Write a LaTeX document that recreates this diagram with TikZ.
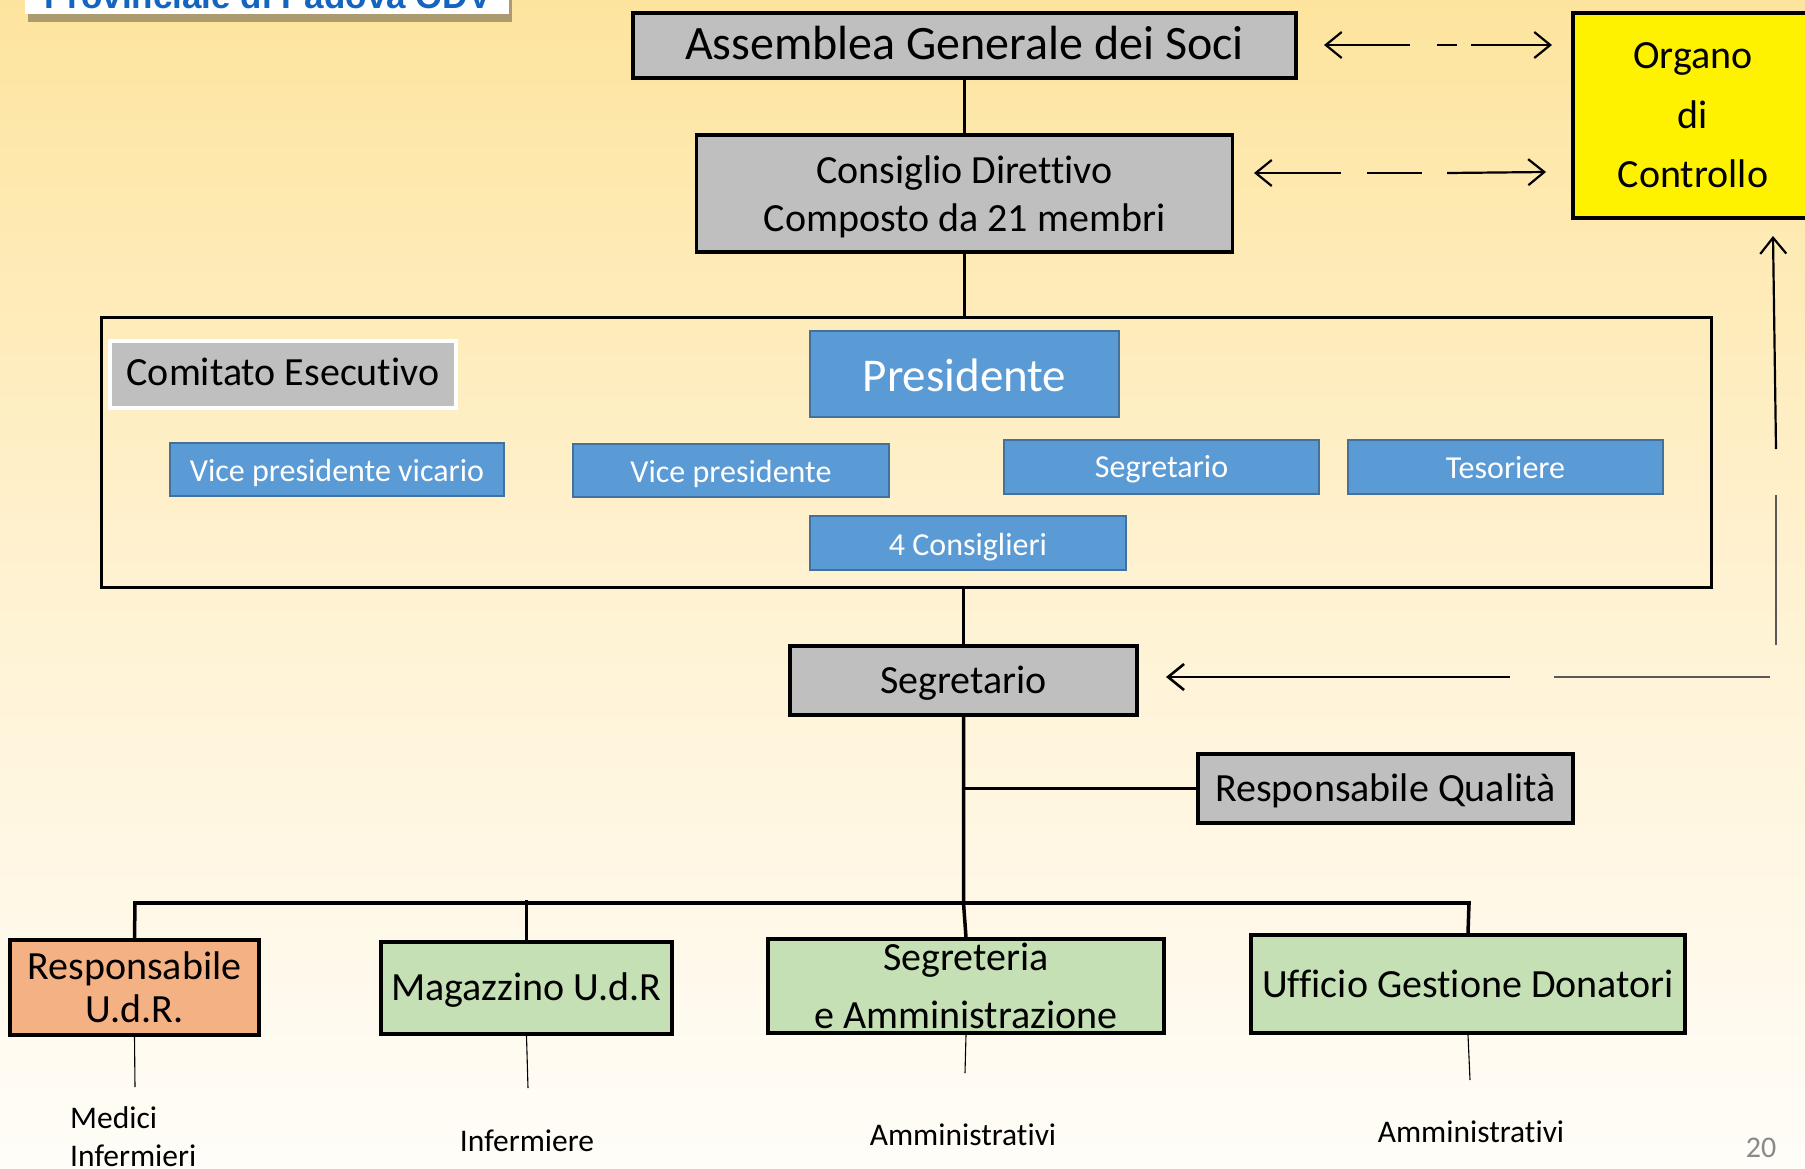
\documentclass[tikz,border=0pt]{standalone}
\usepackage{fontspec}
\setmainfont{Carlito}[Ligatures=NoCommon]
\newfontfamily\titlefont{Liberation Sans}
\usetikzlibrary{arrows.meta,calc}
\newcommand{\txtshift}[2]{\raisebox{-#1pt}[\height][\depth]{#2}}
\definecolor{grayfill}{RGB}{191,191,191}
\definecolor{bluefill}{RGB}{91,155,213}
\definecolor{blueline}{RGB}{65,113,156}
\definecolor{greenfill}{RGB}{197,224,180}
\definecolor{orangefill}{RGB}{244,177,131}
\definecolor{bgtop}{RGB}{253,228,158}
\definecolor{bgmid}{RGB}{255,242,210}
\definecolor{bgbot}{RGB}{255,253,248}
\definecolor{titleblue}{RGB}{21,101,192}
\definecolor{thingray}{RGB}{89,89,89}
\definecolor{shadowc}{RGB}{160,143,104}
\definecolor{pagegray}{RGB}{137,137,137}
\tikzset{
  gbox/.style={draw=black, line width=3.5pt, fill=grayfill, inner sep=0pt, font=\fontsize{40}{48}\selectfont},
  bbox/.style={draw=blueline, line width=2pt, fill=bluefill, text=white, inner sep=0pt, font=\fontsize{32}{38}\selectfont},
  cbox/.style={draw=black, line width=3.5pt, inner sep=0pt, font=\fontsize{40}{48}\selectfont},
  conn/.style={line width=3.5pt},
  arr/.style={line width=2.2pt, arrows={-Straight Barb[length=16pt,width=26pt]}},
  arrl/.style={line width=2.2pt, arrows={Straight Barb[length=16pt,width=26pt]-}},
  plain/.style={line width=2.2pt},
  thinseg/.style={line width=1.4pt, draw=thingray},
  thinblk/.style={line width=1.1pt, draw=black},
  lbl/.style={inner sep=0pt, font=\fontsize{31.5}{38}\selectfont}
}
\begin{document}
\begin{tikzpicture}[x=1pt,y=-1pt]
\useasboundingbox (0,0) rectangle (1805,1168);
\begin{scope}
\clip (0,0) rectangle (1805,1168);
\shade[top color=bgtop, bottom color=bgbot, middle color=bgmid] (0,0) rectangle (1805,1168);
% title (cut by page top)
\fill[shadowc, opacity=0.85] (28,-20) rectangle (512,22);
\fill[white] (25,-20) rectangle (509,14);
\node[anchor=base west, inner sep=0pt, text=titleblue, font=\titlefont\bfseries\fontsize{35}{42}\selectfont] (title) at (44,8) {Provinciale di Padova ODV};

% top boxes
\node[gbox, minimum width=663pt, minimum height=65pt, font=\fontsize{48}{58}\selectfont] (ass) at (964.5,45.5) {\txtshift{-2.3}{Assemblea Generale dei Soci}};
\node[gbox, minimum width=536pt, minimum height=117pt] (cons) at (964.5,193.5) {};
\node[inner sep=0pt, align=center, font=\fontsize{40}{48}\selectfont] (consT) at ($(cons.center)+(0,3.5)$) {Consiglio Direttivo\\Composto da 21 membri};
\node[cbox, fill=yellow, minimum width=240pt, minimum height=205pt, align=center, font=\fontsize{40}{59.5}\selectfont] (org) at (1693,115.5) {Organo\\di\\Controllo};

% executive frame
\node[draw=black, line width=3pt, inner sep=0pt, minimum width=1610pt, minimum height=270pt] (frame) at (906,452) {};
\node[draw=white, line width=4pt, fill=grayfill, inner sep=0pt, minimum width=346pt, minimum height=67pt, font=\fontsize{40}{48}\selectfont] (com) at (283,374.5) {\txtshift{-2.3}{Comitato Esecutivo}};
\node[bbox, minimum width=309pt, minimum height=86pt, font=\fontsize{47}{56}\selectfont] (pres) at (964.5,374) {\txtshift{1}{Presidente}};
\node[bbox, minimum width=334pt, minimum height=53pt] (vpv) at (337,469.5) {\txtshift{3.5}{Vice presidente vicario}};
\node[bbox, minimum width=316pt, minimum height=53pt] (vp) at (731,470.5) {\txtshift{3.5}{Vice presidente}};
\node[bbox, minimum width=315pt, minimum height=54pt] (segb) at (1161.5,467) {\txtshift{2.3}{Segretario}};
\node[bbox, minimum width=315pt, minimum height=54pt] (tes) at (1505.5,467) {\txtshift{1}{Tesoriere}};
\node[bbox, minimum width=316pt, minimum height=54pt] (cons4) at (968,543) {\txtshift{4.5}{4 Consiglieri}};

% lower part
\node[gbox, minimum width=347pt, minimum height=69pt] (seg) at (963.5,680.5) {\txtshift{2.3}{Segretario}};
\node[gbox, minimum width=375pt, minimum height=69pt] (rq) at (1385.5,788.5) {\txtshift{2.3}{Responsabile Qualità}};

\node[cbox, fill=orangefill, minimum width=249pt, minimum height=95pt, align=center, font=\fontsize{40}{43}\selectfont] (resp) at (134.5,987.5) {Responsabile\\U.d.R.};
\node[cbox, fill=greenfill, minimum width=291pt, minimum height=92pt] (mag) at (526.5,988) {\txtshift{2.3}{Magazzino U.d.R}};
\node[cbox, fill=greenfill, minimum width=396pt, minimum height=94pt] (segr) at (966,986) {};
\node[inner sep=0pt, align=center, font=\fontsize{40}{58}\selectfont] (segrT) at (segr.center) {Segreteria\\e Amministrazione};
\node[cbox, fill=greenfill, minimum width=434pt, minimum height=98pt] (uff) at (1468,984) {Ufficio Gestione Donatori};

% connectors
\draw[conn] (ass.south) -- (cons.north);
\draw[conn] (cons.south) -- (cons.south |- frame.north);
\draw[conn] (seg.north |- frame.south) -- (seg.north);
\coordinate (busL) at (135,903);
\coordinate (busR) at (1469,903);
\coordinate (busM) at (963.5,903);
\draw[conn] (seg.south) -- (busM) -- (segr.north);
\draw[conn] (seg.south |- rq.west) -- (rq.west);
\draw[conn, line cap=rect] (busL) -- (busR);
\draw[conn] (busL) -- (resp.north);
\draw[conn] ($(mag.north |- busL)+(0,-3)$) -- (mag.north);
\draw[conn] (busR) -- (uff.north);

% staff labels
\node[lbl, anchor=west, align=left] (l1) at (70,1136.5) {Medici\\Infermieri};
\node[lbl] (l2) at (527,1141) {Infermiere};
\node[lbl] (l3) at (963,1135) {Amministrativi};
\node[lbl] (l4) at (1471,1132) {Amministrativi};
\coordinate (t1) at (135,1087);
\coordinate (t2) at (528,1088);
\coordinate (t3) at (965,1073);
\coordinate (t4) at (1470,1080);
\draw[thinblk] (resp.south) -- (t1);
\draw[thinblk] (mag.south) -- (t2);
\draw[thinblk] (segr.south) -- (t3);
\draw[thinblk] (uff.south) -- (t4);

% control arrows
\coordinate (a1s) at (1324,45);
\coordinate (a1m1) at (1410,45);
\coordinate (a1m2) at (1437,45);
\coordinate (a1m3) at (1457,45);
\coordinate (a1m4) at (1471,45);
\coordinate (a1e) at (1552,45);
\draw[arrl] (a1s) -- (a1m1);
\draw[plain] (a1m2) -- (a1m3);
\draw[arr] (a1m4) -- (a1e);

\coordinate (a2s) at (1254,173);
\coordinate (a2m1) at (1341,173);
\coordinate (a2m2) at (1367,173);
\coordinate (a2m3) at (1422,173);
\coordinate (a2m4) at (1447,173);
\coordinate (a2e) at (1546,172);
\draw[arrl] (a2s) -- (a2m1);
\draw[plain] (a2m2) -- (a2m3);
\draw[arr] (a2m4) -- (a2e);

\coordinate (v1b) at (1776,449);
\coordinate (v1t) at (1773,236);
\coordinate (v2t) at (1776,495);
\coordinate (v2b) at (1776,645);
\coordinate (h1r) at (1770,677);
\coordinate (h1l) at (1554,677);
\coordinate (h2r) at (1510,677);
\coordinate (h2l) at (1166,677);
\draw[arr] (v1b) -- (v1t);
\draw[thinseg] (v2t) -- (v2b);
\draw[thinseg] (h1r) -- (h1l);
\draw[arr, line width=2.6pt] (h2r) -- (h2l);

\node[inner sep=0pt, text=pagegray, font=\fontsize{30}{36}\selectfont] (pg) at (1761,1148) {20};
\end{scope}
\end{tikzpicture}
\end{document}
